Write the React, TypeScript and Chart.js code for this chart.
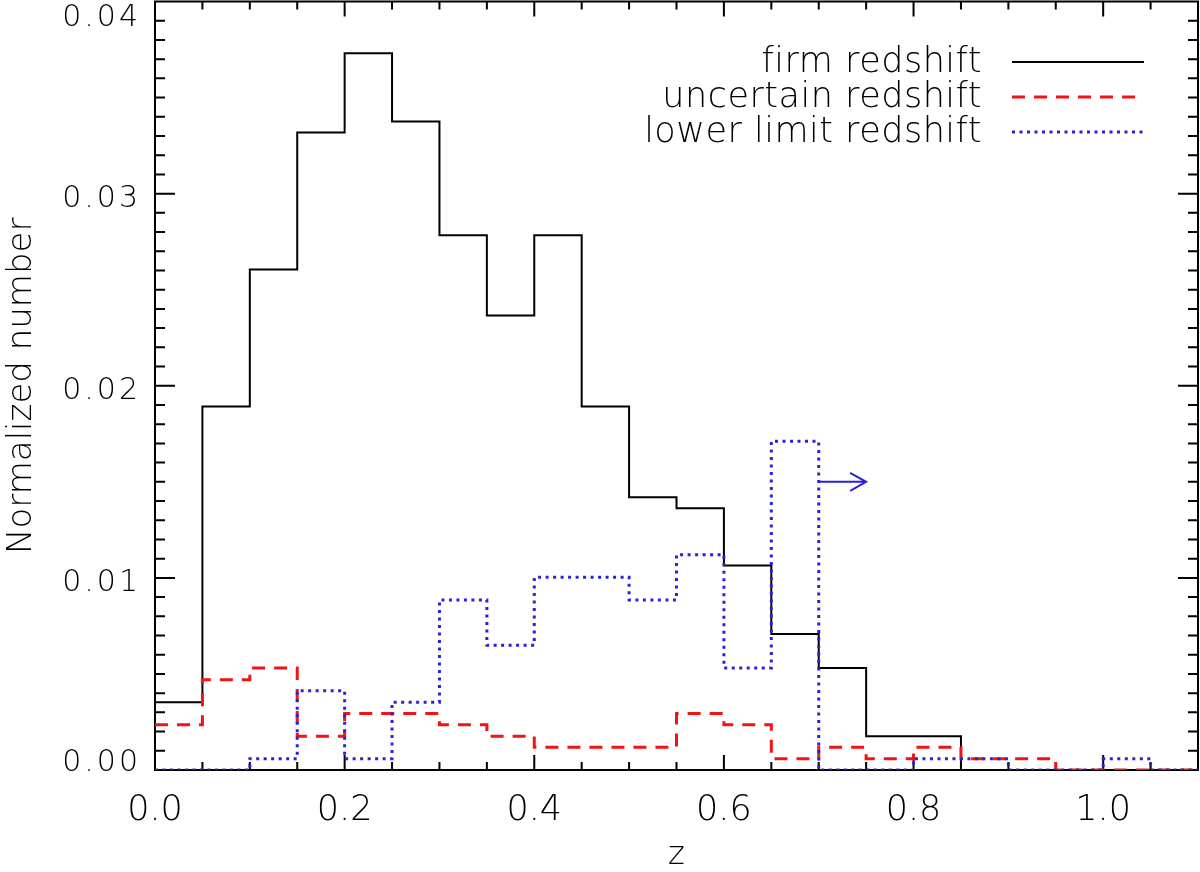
import { useEffect, useRef } from 'react';
import { Chart, registerables } from 'chart.js';

Chart.register(...registerables);

// Left edges of the redshift bins (bin width 0.05)
const binStarts = [
  0.0, 0.05, 0.1, 0.15, 0.2, 0.25, 0.3, 0.35, 0.4, 0.45, 0.5,
  0.55, 0.6, 0.65, 0.7, 0.75, 0.8, 0.85, 0.9, 0.95, 1.0, 1.05,
];
const binWidth = 0.05;

// Normalized number per bin
const firmRedshift = [
  0.00353, 0.01892, 0.02605, 0.03318, 0.0373, 0.03375, 0.02783, 0.02366, 0.02783, 0.01892, 0.0142,
  0.01362, 0.01064, 0.00708, 0.00531, 0.00176, 0.00176, 0.0, 0.0, 0.0, 0.0, 0.0,
];
const uncertainRedshift = [
  0.00235, 0.0047, 0.00531, 0.00176, 0.00294, 0.00294, 0.00235, 0.00176, 0.00118, 0.00118, 0.00118,
  0.00294, 0.00235, 0.00059, 0.00118, 0.00059, 0.00118, 0.00059, 0.00059, 0.0, 0.0, 0.0,
];
const lowerLimitRedshift = [
  0.0, 0.0, 0.00059, 0.00413, 0.00059, 0.00353, 0.00885, 0.00649, 0.01003, 0.01003, 0.00885,
  0.01121, 0.00531, 0.01711, 0.0, 0.0, 0.00059, 0.00059, 0.0, 0.0, 0.00059, 0.0,
];

const seriesLabels = ['firm redshift', 'uncertain redshift', 'lower limit redshift'];

// Axis ticks
const xTickValues = [0.0, 0.2, 0.4, 0.6, 0.8, 1.0];
const yTickValues = [0.0, 0.01, 0.02, 0.03, 0.04];
const xMinorStep = 0.05;
const yMinorStep = 0.001;

// Lower-limit marker arrow
const arrowStart = { x: 0.7, y: 0.015 };
const arrowEnd = { x: 0.75, y: 0.015 };

const FONT = "'DejaVu Sans', 'Liberation Sans', sans-serif";
const WEIGHT = '300';
const BLACK = '#000000';
const RED = '#f01414';
const BLUE = '#2b22d6';

function histogramPoints(values: number[]) {
  const pts = binStarts.map((x, i) => ({ x, y: values[i] }));
  pts.push({ x: binStarts[binStarts.length - 1] + binWidth, y: values[values.length - 1] });
  return pts;
}

const framePlugin = {
  id: 'frameAndAnnotations',
  beforeDatasetsDraw(chart: any) {
    const { ctx, chartArea } = chart;
    const { left, right, top, bottom } = chartArea;
    const xs = chart.scales.x;
    const ys = chart.scales.y;
    ctx.save();
    ctx.strokeStyle = BLACK;
    ctx.lineWidth = 2;
    ctx.lineCap = 'butt';
    ctx.beginPath();
    ctx.rect(left, top, right - left, bottom - top);

    const nx = Math.round((xs.max - xs.min) / xMinorStep);
    for (let i = 0; i <= nx; i++) {
      const v = xs.min + i * xMinorStep;
      const px = xs.getPixelForValue(v);
      const major = xTickValues.some((t) => Math.abs(t - v) < 1e-9);
      const len = major ? 15 : 8;
      ctx.moveTo(px, bottom);
      ctx.lineTo(px, bottom - len);
      ctx.moveTo(px, top);
      ctx.lineTo(px, top + len);
    }
    const ny = Math.round((ys.max - ys.min) / yMinorStep);
    for (let i = 0; i <= ny; i++) {
      const v = ys.min + i * yMinorStep;
      const py = ys.getPixelForValue(v);
      const major = yTickValues.some((t) => Math.abs(t - v) < 1e-9);
      const len = major ? 20 : 10;
      ctx.moveTo(left, py);
      ctx.lineTo(left + len, py);
      ctx.moveTo(right, py);
      ctx.lineTo(right - len, py);
    }
    ctx.stroke();
    ctx.restore();
  },
  afterDatasetsDraw(chart: any) {
    const { ctx, chartArea } = chart;
    const { top, bottom } = chartArea;
    const xs = chart.scales.x;
    const ys = chart.scales.y;

    // arrow marking the lower-limit bin
    const ax0 = xs.getPixelForValue(arrowStart.x);
    const ax1 = xs.getPixelForValue(arrowEnd.x);
    const ay = ys.getPixelForValue(arrowStart.y);
    ctx.save();
    ctx.strokeStyle = BLUE;
    ctx.lineWidth = 2;
    ctx.beginPath();
    ctx.moveTo(ax0, ay);
    ctx.lineTo(ax1, ay);
    ctx.moveTo(ax1 - 16, ay - 9);
    ctx.lineTo(ax1, ay);
    ctx.lineTo(ax1 - 16, ay + 9);
    ctx.stroke();
    ctx.restore();

    // y tick labels, kept inside the frame vertically
    ctx.save();
    ctx.fillStyle = BLACK;
    ctx.font = `${WEIGHT} 30px ${FONT}`;
    (ctx as any).letterSpacing = '3px';
    ctx.textAlign = 'right';
    ctx.textBaseline = 'alphabetic';
    for (const v of yTickValues) {
      const py = ys.getPixelForValue(v);
      const base = Math.min(Math.max(py + 13.5, top + 24), bottom + 1);
      ctx.fillText(v.toFixed(2), 141, base);
    }
    ctx.restore();

    // legend: right-aligned labels followed by line samples
    const datasets = chart.data.datasets;
    const textRight = 982;
    const lineX0 = 1012;
    const lineX1 = 1144;
    const rowY = [62, 97, 132];
    ctx.save();
    ctx.font = `${WEIGHT} 35px ${FONT}`;
    (ctx as any).letterSpacing = '0.5px';
    ctx.textAlign = 'right';
    ctx.textBaseline = 'alphabetic';
    datasets.forEach((ds: any, i: number) => {
      ctx.fillStyle = BLACK;
      ctx.fillText(ds.label, textRight, rowY[i] + 9.5);
      ctx.strokeStyle = ds.borderColor;
      ctx.lineWidth = ds.borderWidth;
      ctx.lineCap = 'butt';
      ctx.setLineDash(ds.borderDash || []);
      ctx.beginPath();
      ctx.moveTo(lineX0, rowY[i]);
      ctx.lineTo(lineX1, rowY[i]);
      ctx.stroke();
    });
    ctx.restore();
  },
};

export default function App() {
  const canvasRef = useRef<HTMLCanvasElement | null>(null);

  useEffect(() => {
    const canvas = canvasRef.current;
    if (!canvas) return;
    const common = {
      pointRadius: 0,
      pointHoverRadius: 0,
      fill: false,
      stepped: 'before' as const,
      borderCapStyle: 'butt' as const,
      borderJoinStyle: 'miter' as const,
    };
    const chart = new Chart(canvas, {
      type: 'line',
      data: {
        datasets: [
          {
            ...common,
            label: seriesLabels[0],
            data: histogramPoints(firmRedshift),
            borderColor: BLACK,
            borderWidth: 2,
            order: 3,
          },
          {
            ...common,
            label: seriesLabels[1],
            data: histogramPoints(uncertainRedshift),
            borderColor: RED,
            borderWidth: 3,
            borderDash: [13, 9],
            order: 2,
          },
          {
            ...common,
            label: seriesLabels[2],
            data: histogramPoints(lowerLimitRedshift),
            borderColor: BLUE,
            borderWidth: 3,
            borderDash: [3, 4.5],
            order: 1,
          },
        ],
      },
      options: {
        responsive: false,
        animation: false,
        devicePixelRatio: 1,
        layout: { padding: { top: 1.5, right: 2, left: 0, bottom: 0 } },
        plugins: {
          legend: { display: false },
          tooltip: { enabled: false },
        },
        scales: {
          x: {
            type: 'linear',
            position: 'bottom',
            min: 0,
            max: 1.1,
            grid: { display: false, drawTicks: false },
            border: { display: false },
            afterBuildTicks: (scale: any) => {
              scale.ticks = xTickValues.map((value) => ({ value }));
            },
            afterFit: (scale: any) => {
              scale.height = 102;
            },
            ticks: {
              autoSkip: false,
              maxRotation: 0,
              padding: 20,
              color: BLACK,
              font: { family: FONT, size: 35, weight: WEIGHT },
              callback: (value: any) => Number(value).toFixed(1),
            },
            title: {
              display: true,
              text: 'z',
              color: BLACK,
              font: { family: FONT, size: 32, lineHeight: 1, weight: WEIGHT },
              padding: { top: 0, bottom: 0 },
            },
          },
          y: {
            type: 'linear',
            position: 'left',
            min: 0,
            max: 0.04,
            grid: { display: false, drawTicks: false },
            border: { display: false },
            ticks: { display: false },
            afterBuildTicks: (scale: any) => {
              scale.ticks = yTickValues.map((value) => ({ value }));
            },
            afterFit: (scale: any) => {
              scale.width = 155;
            },
            title: {
              display: true,
              text: 'Normalized number',
              color: BLACK,
              font: { family: FONT, size: 34, lineHeight: 1, weight: WEIGHT },
              padding: { top: 5, bottom: 0 },
            },
          },
        },
      },
      plugins: [framePlugin],
    });
    return () => chart.destroy();
  }, []);

  return (
    <div style={{ position: 'absolute', left: 0, top: 0, width: 1200, height: 872, background: '#fff' }}>
      <canvas ref={canvasRef} width={1200} height={872} />
    </div>
  );
}
